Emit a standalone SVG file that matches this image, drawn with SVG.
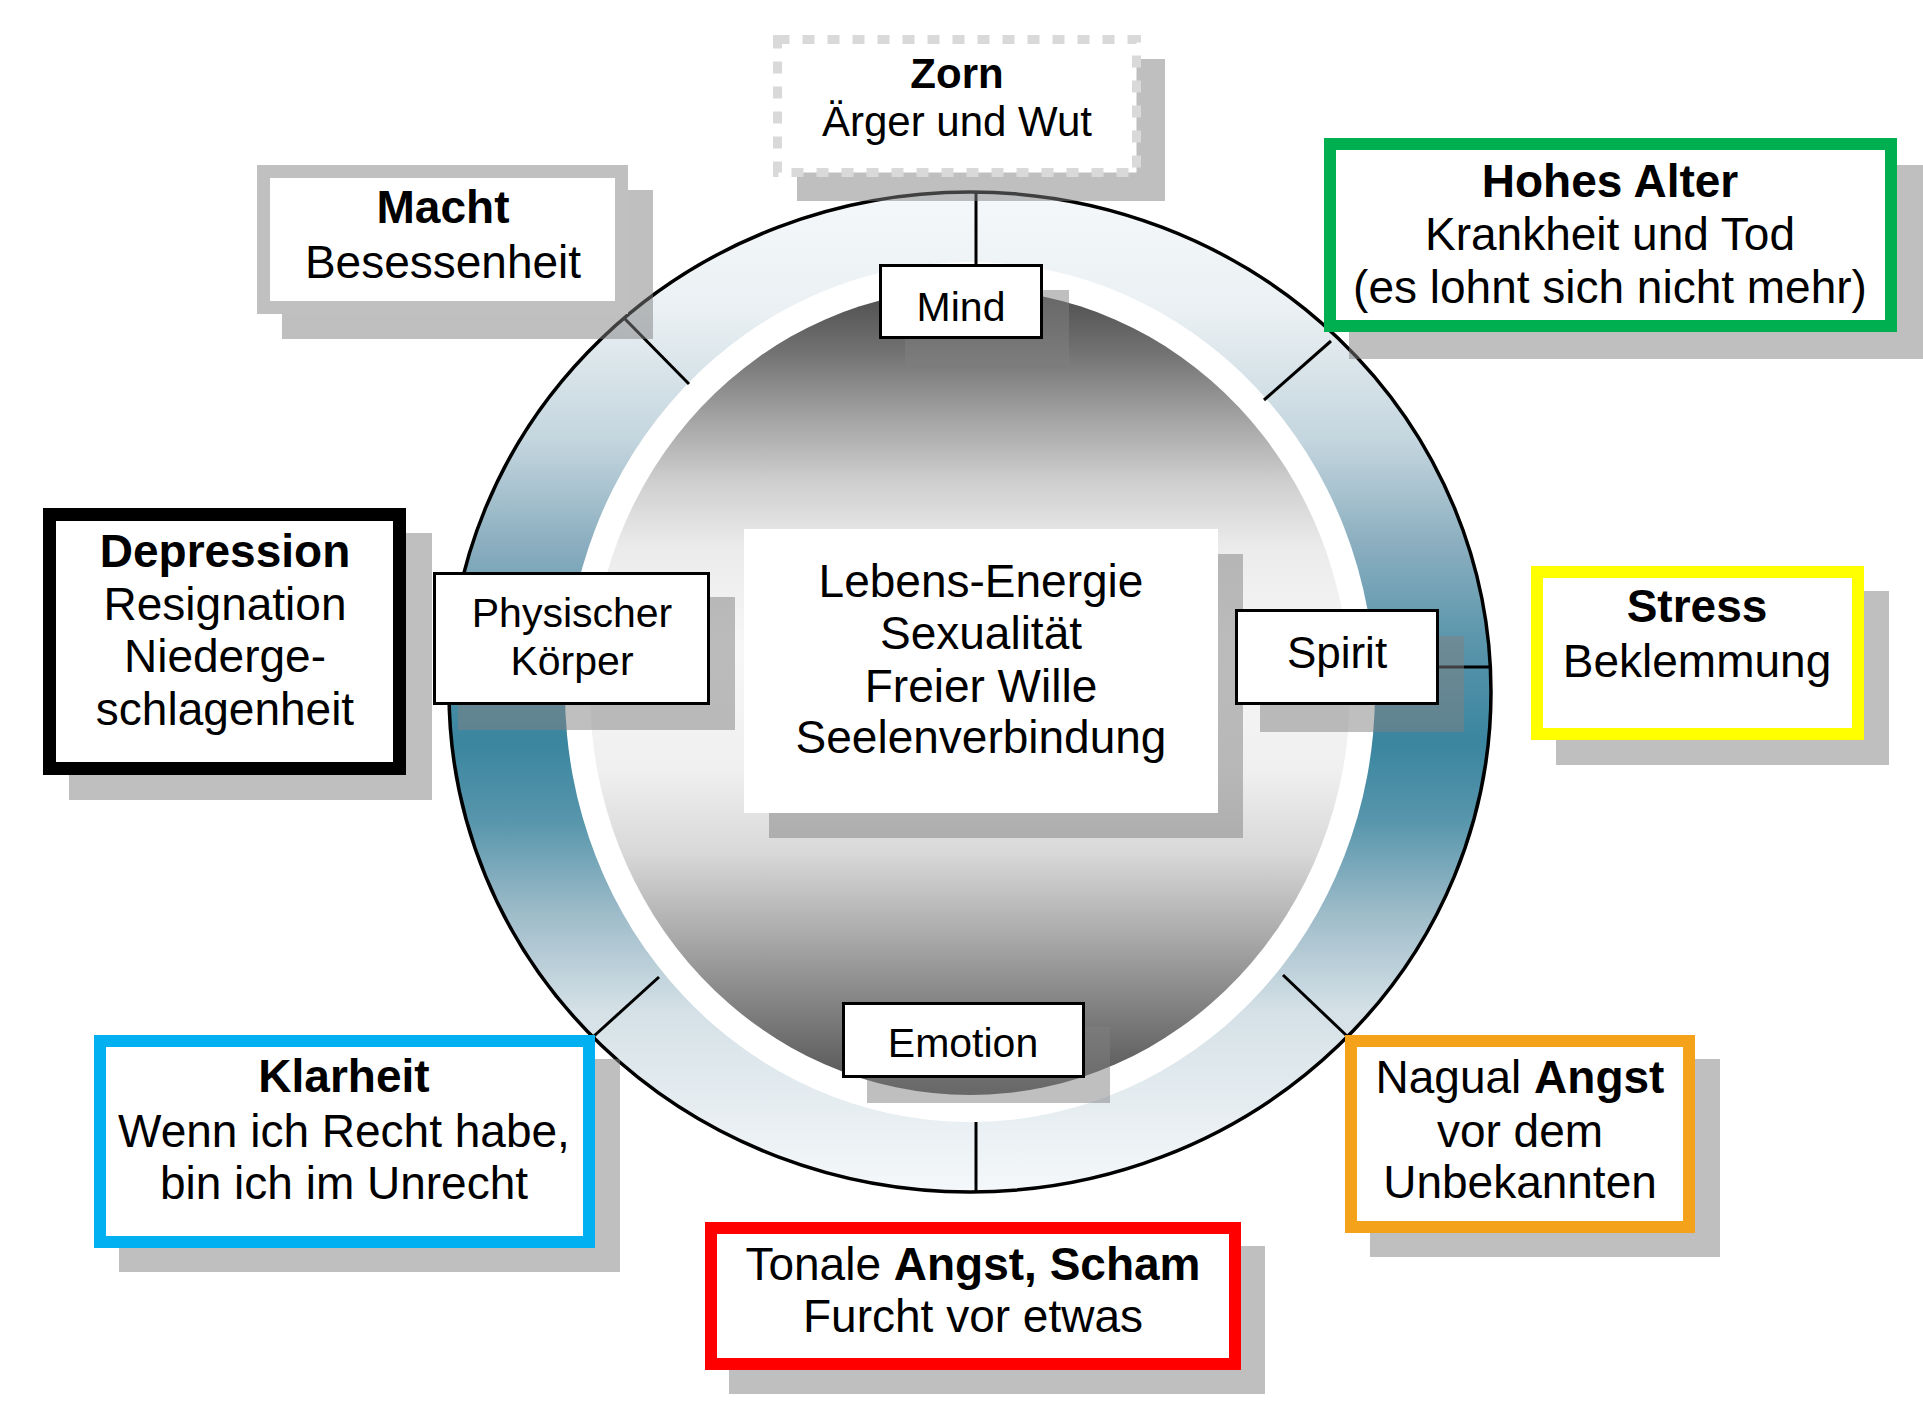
<svg xmlns="http://www.w3.org/2000/svg" width="1923" height="1409" viewBox="0 0 1923 1409">
<defs>
<linearGradient id="band" gradientUnits="userSpaceOnUse" x1="0" y1="192" x2="0" y2="1192">
<stop offset="0" stop-color="#f5f8fa"/>
<stop offset="0.12" stop-color="#eaf0f3"/>
<stop offset="0.25" stop-color="#c3d5de"/>
<stop offset="0.35" stop-color="#8cafc0"/>
<stop offset="0.45" stop-color="#5a95ab"/>
<stop offset="0.55" stop-color="#3a859f"/>
<stop offset="0.63" stop-color="#5896ac"/>
<stop offset="0.72" stop-color="#9dbbc9"/>
<stop offset="0.82" stop-color="#d5e1e7"/>
<stop offset="1" stop-color="#f5f8fa"/>
</linearGradient>
<linearGradient id="disc" gradientUnits="userSpaceOnUse" x1="0" y1="289" x2="0" y2="1095">
<stop offset="0" stop-color="#4c4c4c"/>
<stop offset="0.08" stop-color="#737373"/>
<stop offset="0.16" stop-color="#a3a3a3"/>
<stop offset="0.24" stop-color="#cfcfcf"/>
<stop offset="0.32" stop-color="#ebebeb"/>
<stop offset="0.45" stop-color="#f7f7f7"/>
<stop offset="0.6" stop-color="#efefef"/>
<stop offset="0.7" stop-color="#d8d8d8"/>
<stop offset="0.8" stop-color="#ababab"/>
<stop offset="0.9" stop-color="#7d7d7d"/>
<stop offset="1" stop-color="#505050"/>
</linearGradient>
</defs>
<style>
.shadow { fill:#808080; fill-opacity:0.5; }
.plain { fill:#ffffff; }
.small { fill:#ffffff; stroke:#000000; stroke-width:3; }
.conn { stroke:#000000; stroke-width:3; fill:none; }
text { font-family:"Liberation Sans", Arial, sans-serif; fill:#000000; text-anchor:middle; }
.t46 { font-size:46px; }
.t41 { font-size:41px; }
.t42 { font-size:42px; }
.t44 { font-size:44px; }
.b { font-weight:bold; }
</style>
<rect x="0" y="0" width="1923" height="1409" fill="#ffffff"/>

<g id="wheel">
<ellipse cx="970" cy="692" rx="521" ry="500" fill="url(#band)" stroke="#000000" stroke-width="3.5"/>
<ellipse cx="970" cy="692" rx="405" ry="430" fill="#ffffff"/>
<ellipse cx="970" cy="692" rx="380" ry="403" fill="url(#disc)"/>
</g>

<g id="connectors">
<line class="conn" x1="976" y1="192" x2="976" y2="265"/>
<line class="conn" x1="976" y1="1122" x2="976" y2="1192"/>
<line class="conn" x1="1439" y1="667" x2="1491" y2="667"/>
<line class="conn" x1="625" y1="319" x2="689" y2="384"/>
<line class="conn" x1="1331" y1="341" x2="1264" y2="400"/>
<line class="conn" x1="594" y1="1036" x2="659" y2="977"/>
<line class="conn" x1="1347" y1="1036" x2="1283" y2="975"/>
</g>

<g id="center">
<rect class="shadow" x="769" y="554" width="474" height="284"/>
<rect class="plain" x="744" y="529" width="474" height="284"/>
<text class="t46" x="981" y="597">Lebens-Energie</text>
<text class="t46" x="981" y="649">Sexualität</text>
<text class="t46" x="981" y="702">Freier Wille</text>
<text class="t46" x="981" y="753">Seelenverbindung</text>
</g>

<g id="mind">
<rect class="shadow" x="905" y="290" width="164" height="75"/>
<rect class="small" x="880.5" y="265.5" width="161" height="72"/>
<text class="t41" x="961" y="321">Mind</text>
</g>

<g id="koerper">
<rect class="shadow" x="458" y="597" width="277" height="133"/>
<rect class="small" x="434.5" y="573.5" width="274" height="130"/>
<text class="t41" x="572" y="627">Physischer</text>
<text class="t41" x="572" y="675">Körper</text>
</g>

<g id="spirit">
<rect class="shadow" x="1260" y="636" width="204" height="96"/>
<rect class="small" x="1236.5" y="610.5" width="201" height="93"/>
<text class="t44" x="1337" y="668">Spirit</text>
</g>

<g id="emotion">
<rect class="shadow" x="867" y="1027" width="243" height="76"/>
<rect class="small" x="843.5" y="1003.5" width="240" height="73"/>
<text class="t41" x="963" y="1057">Emotion</text>
</g>

<g id="zorn">
<rect class="shadow" x="797" y="59" width="368" height="142"/>
<rect x="777.5" y="39.5" width="359" height="133" fill="#ffffff" stroke="#d9d9d9" stroke-width="9" stroke-dasharray="12 13"/>
<text class="t42 b" x="957" y="88">Zorn</text>
<text class="t42" x="957" y="136">Ärger und Wut</text>
</g>

<g id="macht">
<rect class="shadow" x="282" y="190" width="371" height="149"/>
<rect x="263.5" y="171.5" width="358" height="136" fill="#ffffff" stroke="#c0c0c0" stroke-width="13"/>
<text class="t46 b" x="443" y="223">Macht</text>
<text class="t46" x="443" y="278">Besessenheit</text>
</g>

<g id="hohes-alter">
<rect class="shadow" x="1349" y="165" width="574" height="194"/>
<rect x="1330" y="144" width="561" height="182" fill="#ffffff" stroke="#00b050" stroke-width="12"/>
<text class="t46 b" x="1610" y="197">Hohes Alter</text>
<text class="t46" x="1610" y="250">Krankheit und Tod</text>
<text class="t46" x="1610" y="303">(es lohnt sich nicht mehr)</text>
</g>

<g id="depression">
<rect class="shadow" x="69" y="533" width="363" height="267"/>
<rect x="49.5" y="514.5" width="350" height="254" fill="#ffffff" stroke="#000000" stroke-width="13"/>
<text class="t46 b" x="225" y="567">Depression</text>
<text class="t46" x="225" y="620">Resignation</text>
<text class="t46" x="225" y="672">Niederge-</text>
<text class="t46" x="225" y="725">schlagenheit</text>
</g>

<g id="stress">
<rect class="shadow" x="1556" y="591" width="333" height="174"/>
<rect x="1537" y="572" width="321" height="162" fill="#ffffff" stroke="#ffff00" stroke-width="12"/>
<text class="t46 b" x="1697" y="622">Stress</text>
<text class="t46" x="1697" y="677">Beklemmung</text>
</g>

<g id="klarheit">
<rect class="shadow" x="119" y="1059" width="501" height="213"/>
<rect x="100" y="1041" width="489" height="201" fill="#ffffff" stroke="#00b0f0" stroke-width="12"/>
<text class="t46 b" x="344" y="1092">Klarheit</text>
<text class="t46" x="344" y="1147">Wenn ich Recht habe,</text>
<text class="t46" x="344" y="1199">bin ich im Unrecht</text>
</g>

<g id="tonale">
<rect class="shadow" x="729" y="1246" width="536" height="148"/>
<rect x="711" y="1228" width="524" height="136" fill="#ffffff" stroke="#ff0000" stroke-width="12"/>
<text class="t46" x="973" y="1280">Tonale <tspan class="b">Angst, Scham</tspan></text>
<text class="t46" x="973" y="1332">Furcht vor etwas</text>
</g>

<g id="nagual">
<rect class="shadow" x="1370" y="1059" width="350" height="198"/>
<rect x="1351" y="1041" width="338" height="186" fill="#ffffff" stroke="#f4a21a" stroke-width="12"/>
<text class="t46" x="1520" y="1093">Nagual <tspan class="b">Angst</tspan></text>
<text class="t46" x="1520" y="1147">vor dem</text>
<text class="t46" x="1520" y="1198">Unbekannten</text>
</g>
</svg>
